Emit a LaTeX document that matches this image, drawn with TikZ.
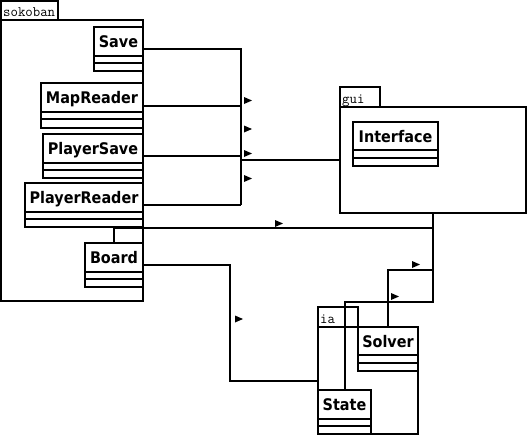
\documentclass[tikz,border=0pt]{standalone}
\usepackage{fontspec}
\newfontfamily\clsfont{DejaVu Sans}[FakeStretch=0.9]
\tikzset{
  ln/.style={line width=2pt},
  clsbox/.style={draw, line width=2pt, inner sep=0pt, rectangle},
  pkgbox/.style={draw, line width=2pt, inner sep=0pt, rectangle},
  clstext/.style={font=\clsfont\bfseries\fontsize{16}{19}\selectfont, inner sep=0pt, anchor=base},
  pkgtext/.style={font=\ttfamily\fontsize{14.4}{16}\selectfont, inner sep=0pt, anchor=base west},
  dirtri/.style={fill=black},
}
% class: name, text, x1, y1, x2, y2, divider1, divider2
\newcommand\umlcls[8]{%
  \node[clsbox, minimum width={#5-#3}, minimum height={#6-#4}] (#1) at ({(#3+#5)/2},{(#4+#6)/2}) {};
  \draw[ln] (#3,#7) -- (#5,#7) (#3,#8) -- (#5,#8);
  \node[clstext] (#1-t) at ({(#3+#5)/2},{#4+20}) {#2};
}
% package: name, label, x1, tabright, tabtop, bodytop, x2, y2
\newcommand\umlpkg[8]{%
  \node[pkgbox, minimum width={#4-#3}, minimum height={#6-#5}] (#1-tab) at ({(#3+#4)/2},{(#5+#6)/2}) {};
  \node[pkgbox, minimum width={#7-#3}, minimum height={#8-#6}] (#1) at ({(#3+#7)/2},{(#6+#8)/2}) {};
  \node[pkgtext] (#1-l) at ({#3+2},{#6-4}) {#2};
}
\newcommand\dtri[2]{\fill[dirtri] (#1,{#2-3.5}) -- ({#1+8},#2) -- (#1,{#2+3.5}) -- cycle;}
\begin{document}
\begin{tikzpicture}[x=1pt,y=-1pt]
\useasboundingbox (0,0) rectangle (527,437);
% packages
\umlpkg{sokoban}{sokoban}{1}{58}{1}{20}{143}{301}
\umlpkg{gui}{gui}{340}{380}{87}{107}{526}{213}
\umlpkg{ia}{ia}{318}{358}{307}{327}{418}{434}
% classes
\umlcls{save}{Save}{94}{27}{143}{71}{56}{63}
\umlcls{mapreader}{MapReader}{41}{83}{143}{128}{112}{119}
\umlcls{psave}{PlayerSave}{43}{134}{143}{178}{163}{170}
\umlcls{preader}{PlayerReader}{25}{183}{143}{227}{212}{219}
\umlcls{board}{Board}{85}{243}{143}{287}{272}{279}
\umlcls{interface}{Interface}{353}{122}{438}{166}{150}{158}
\umlcls{solver}{Solver}{358}{327}{418}{371}{355}{363}
\umlcls{state}{State}{318}{390}{371}{434}{419}{426}
% helper coordinates
\coordinate (bus) at (241,0);
\coordinate (jb) at (0,228);
\coordinate (js) at (0,269.5);
\coordinate (jt) at (0,301.5);
\coordinate (jia) at (230,0);
% connectors
\draw[ln] (save.east) -- (save.east -| bus) -- (preader.east -| bus);
\draw[ln] (mapreader.east) -- (mapreader.east -| bus);
\draw[ln] (psave.east) -- (psave.east -| bus);
\draw[ln] (preader.east) -- (preader.east -| bus);
\draw[ln] (gui.west -| bus) -- (gui.west);
\draw[ln] (board.north) |- (jb -| gui.south) -- (gui.south);
\draw[ln] (solver.north) |- (js -| gui.south) -- (gui.south);
\draw[ln] (state.north) |- (jt -| gui.south) -- (gui.south);
\draw[ln] (board.east) -- (board.east -| jia) -- (jia |- ia.west) -- (ia.west);
% direction triangles
\dtri{244}{100.5}
\dtri{244}{129}
\dtri{244}{153.5}
\dtri{244}{178.5}
\dtri{275}{223.5}
\dtri{235}{319}
\dtri{412}{264.5}
\dtri{391}{296.5}
\end{tikzpicture}
\end{document}
